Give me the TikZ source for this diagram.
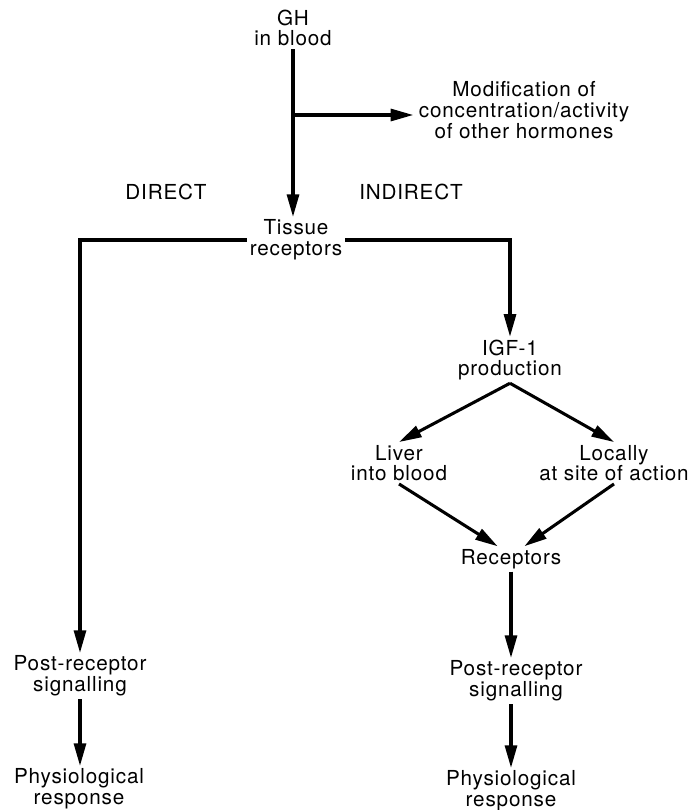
\documentclass[tikz,border=0pt]{standalone}
\usepackage{fontspec}
\setmainfont[LetterSpace=4]{TeX Gyre Heros}
\usetikzlibrary{arrows.meta}
\tikzset{
	txt/.style={align=center, inner sep=2pt, font=\fontsize{15.5}{15.5}\selectfont},
	arr/.style={line width=2.3pt, -{Triangle[length=17pt,width=9pt]}},
}

\begin{document}
\begin{tikzpicture}[x=0.75pt, y=-0.75pt]
		%%%%% START %%%%%
		\useasboundingbox (0, 0) rectangle (696, 810);
		
		\node[txt] (gh) at (293, 28) {GH\\in blood};
		\node[txt, inner sep=4pt] (mod) at (524, 110) {Modification of\\concentration/activity\\of other hormones};
		\node[txt] (direct) at (166, 192) {DIRECT};
		\node[txt] (indirect) at (411, 192) {INDIRECT};
		\node[txt] (tis) at (296, 240) {Tissue\\receptors};
		
		\node[txt] (igf) at (510, 360) {IGF-1\\production};
		\node[txt] (liver) at (399, 463) {Liver\\into blood};
		\node[txt] (local) at (614, 463) {Locally\\at site of action};
		\node[txt] (rec) at (511, 559) {Receptors};
		
		\node[txt] (postl) at (80, 676) {Post-receptor\\signalling};
		\node[txt] (physl) at (79, 789) {Physiological\\response};
		\node[txt] (postr) at (516, 681) {Post-receptor\\signalling};
		\node[txt] (physr) at (511, 791) {Physiological\\response};
		
		% GH and the side branch
		\coordinate (br) at (293, 115);
		\draw[arr] (gh.south) -- (gh.south |- tis.north);
		\draw[arr] (br) -- (br -| mod.west);
		
		% direct / indirect routes
		\draw[arr] (tis.west) -| (postl.north);
		\draw[arr] (tis.east) -| (igf.north);
		
		\draw[arr] (igf.south) -- (liver.north);
		\draw[arr] (igf.south) -- (local.north);
		\draw[arr] (liver.south) -- ([xshift=-10pt]rec.north);
		\draw[arr] (local.south) -- ([xshift=10pt]rec.north);
		
		\draw[arr] (rec.south) -- (rec.south |- postr.north);
		\draw[arr] (rec.south |- postr.south) -- (rec.south |- physr.north);
		\draw[arr] (postl.south) -- (postl.south |- physl.north);
		
		%%%%% END %%%%%
	\end{tikzpicture}
\end{document}
